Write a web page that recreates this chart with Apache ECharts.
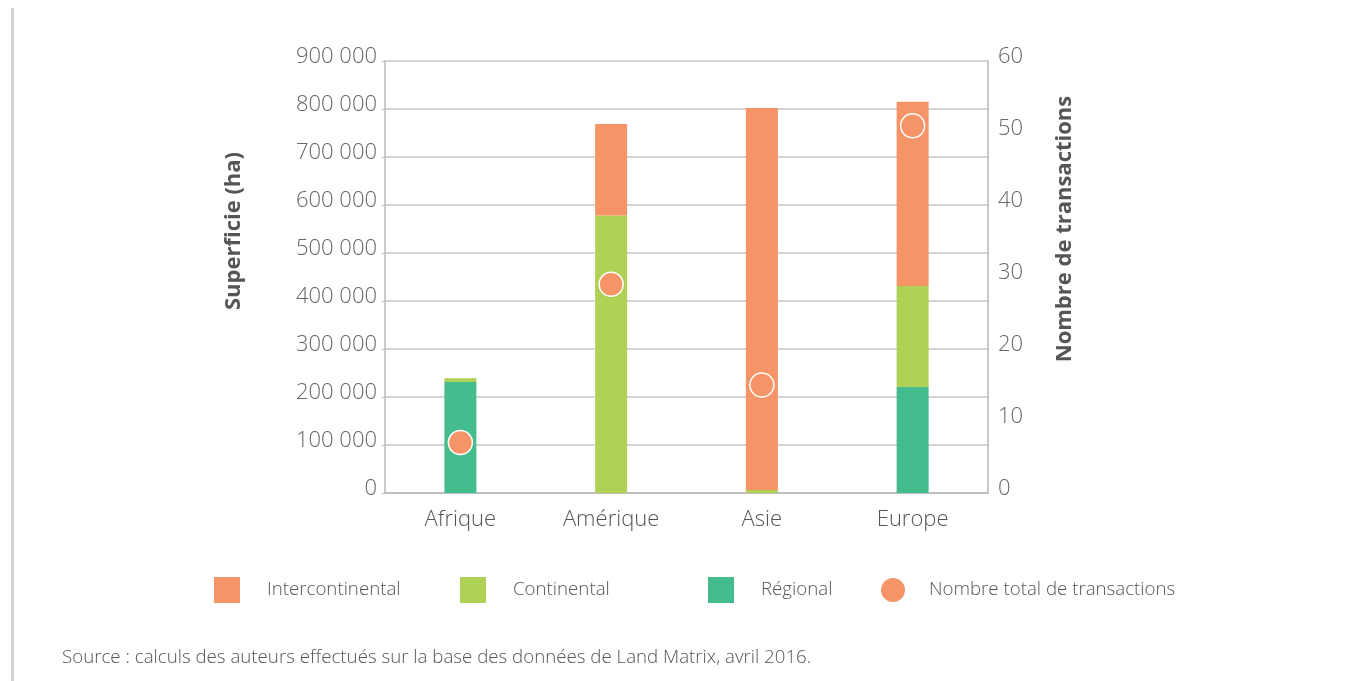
<!DOCTYPE html>
<html>
<head>
<meta charset="utf-8">
<script src="https://cdn.jsdelivr.net/npm/echarts@6/dist/echarts.min.js"></script>
<style>
	html, body { margin: 0; padding: 0; background: #fff; }
	#chart { width: 1362px; height: 681px; }
</style>
</head>
<body>
<div id="chart"></div>
<script>
// régions
var categories = ['Afrique', 'Amérique', 'Asie', 'Europe'];
// superficie (ha) par type
var regional = [231000, 0, 0, 221000];
var continental = [8000, 578000, 6000, 210000];
var intercontinental = [0, 191000, 796000, 384000];
// nombre total de transactions
var transactions = [7, 29, 15, 51];

var C_INTER = '#F59467';
var C_CONT = '#AFD155';
var C_REG = '#45BC8D';
var FONT = "'Open Sans', 'Noto Sans', sans-serif";

function fmtNombre(v) {
	return String(v).replace(/\B(?=(\d{3})+(?!\d))/g, ' ');
}

function legendItem(name, left, icon, gap) {
	return {
		data: [name],
		left: left,
		top: 575,
		padding: 0,
		icon: icon,
		itemWidth: 26,
		itemHeight: 26,
		itemGap: 0,
		selectedMode: false,
		textStyle: { fontFamily: FONT, fontWeight: 300, fontSize: 18.7, color: '#555', lineHeight: 30, padding: [0, 0, 0, gap] }
	};
}

var myChart = echarts.init(document.getElementById('chart'));
var option = {
	animation: false,
	backgroundColor: '#fff',
	title: {
		text: 'Source : calculs des auteurs effectués sur la base des données de Land Matrix, avril 2016.',
		left: 62,
		top: 648,
		padding: 0,
		textStyle: { fontFamily: FONT, fontWeight: 300, fontSize: 18.7, color: '#555' }
	},
	legend: [
		legendItem('Intercontinental', 214, 'rect', 22),
		legendItem('Continental', 460, 'rect', 22),
		legendItem('Régional', 708, 'rect', 22),
		legendItem('Nombre total de transactions', 879, 'circle', 18)
	],
	grid: { left: 385, right: 374, top: 61, bottom: 188, containLabel: false },
	xAxis: {
		type: 'category',
		data: categories,
		axisLine: { lineStyle: { color: '#b9b9b9', width: 1.5 } },
		axisTick: { show: false },
		axisLabel: { fontFamily: FONT, fontWeight: 300, fontSize: 22, color: '#555', margin: 16 }
	},
	yAxis: [{
		type: 'value',
		min: 0,
		max: 900000,
		interval: 100000,
		name: 'Superficie (ha)',
		nameLocation: 'middle',
		nameRotate: 90,
		nameGap: 140,
		nameTextStyle: { fontFamily: FONT, fontWeight: 'bold', fontSize: 22, color: '#555', padding: [0, 0, 0, 92] },
		axisLine: { show: true, lineStyle: { color: '#b9b9b9', width: 1.5 } },
		axisTick: { show: true, length: 3, lineStyle: { color: '#b9b9b9' } },
		splitLine: { lineStyle: { color: '#c4c4c4', width: 1.5 } },
		axisLabel: {
			fontFamily: FONT, fontWeight: 300, fontSize: 22, color: '#666', margin: 8,
			verticalAlign: 'bottom', lineHeight: 8,
			formatter: fmtNombre
		}
	}, {
		type: 'value',
		min: 0,
		max: 60,
		interval: 10,
		position: 'right',
		name: 'Nombre de transactions',
		nameLocation: 'middle',
		nameRotate: 90,
		nameGap: 66,
		nameTextStyle: { fontFamily: FONT, fontWeight: 'bold', fontSize: 22, color: '#555', padding: [0, 0, 0, 96] },
		axisLine: { show: true, lineStyle: { color: '#b9b9b9', width: 1.5 } },
		axisTick: { show: false },
		splitLine: { show: false },
		axisLabel: {
			fontFamily: FONT, fontWeight: 300, fontSize: 22, color: '#666', margin: 10,
			verticalAlign: 'bottom', lineHeight: 8
		}
	}],
	series: [{
		name: 'Régional',
		type: 'bar',
		stack: 'ha',
		barWidth: 32,
		itemStyle: { color: C_REG },
		data: regional
	}, {
		name: 'Continental',
		type: 'bar',
		stack: 'ha',
		barWidth: 32,
		itemStyle: { color: C_CONT },
		data: continental
	}, {
		name: 'Intercontinental',
		type: 'bar',
		stack: 'ha',
		barWidth: 32,
		itemStyle: { color: C_INTER },
		data: intercontinental
	}, {
		name: 'Nombre total de transactions',
		type: 'scatter',
		yAxisIndex: 1,
		symbolSize: 24,
		z: 5,
		itemStyle: { color: C_INTER, borderColor: '#fff', borderWidth: 1.5, opacity: 1 },
		data: transactions
	}],
	graphic: [{
		type: 'rect',
		left: 11,
		top: 8,
		shape: { width: 3, height: 673 },
		style: { fill: '#d4d4d4' },
		silent: true
	}]
};
myChart.setOption(option, true);
</script>
</body>
</html>
